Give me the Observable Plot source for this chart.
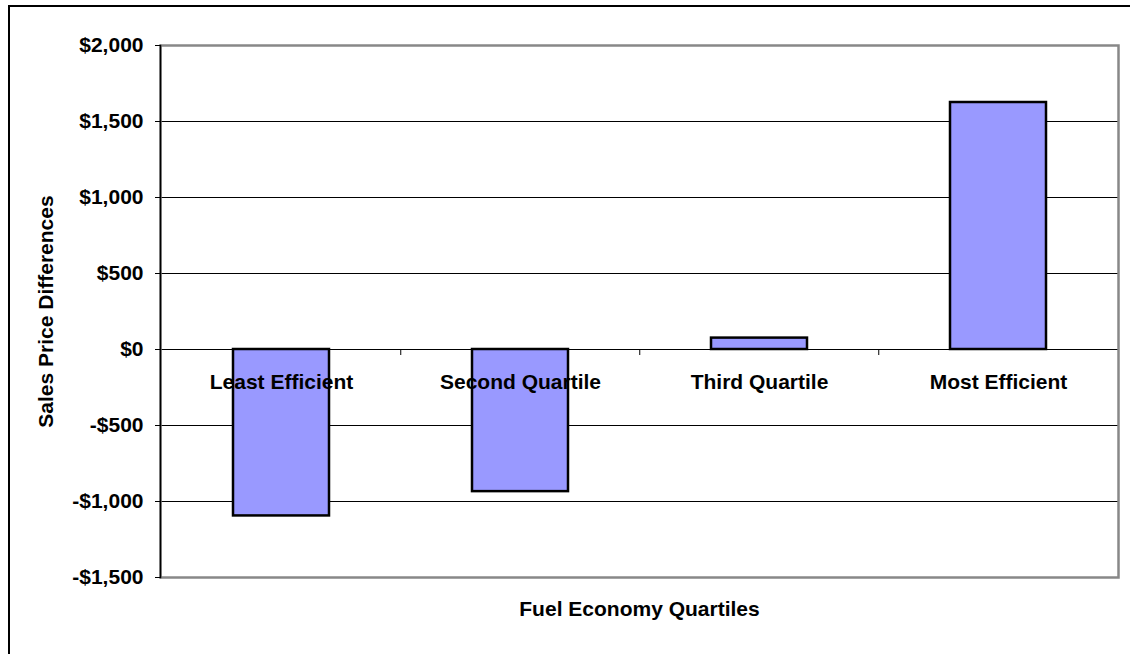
<!DOCTYPE html>
<html><head><meta charset="utf-8">
<script src="https://cdn.jsdelivr.net/npm/d3@7"></script>
<script src="https://cdn.jsdelivr.net/npm/@observablehq/plot@0.6"></script>
<style>
html,body{margin:0;padding:0;background:#fff;}
#wrap{position:relative;width:1130px;height:654px;overflow:hidden;}
#chart{position:absolute;left:0;top:0;}
#border{position:absolute;left:8px;top:5px;width:1200px;height:700px;border-top:2px solid #000;border-left:2px solid #000;pointer-events:none;}
</style></head><body>
<div id="wrap"><div id="chart"></div><div id="border"></div></div>
<script>
const categories = ["Least Efficient", "Second Quartile", "Third Quartile", "Most Efficient"];
const values = [-1095, -935, 75, 1625];
const yTicks = [-1500, -1000, -500, 0, 500, 1000, 1500, 2000];
const gridTicks = [-1000, -500, 0, 500, 1000, 1500];
const yLabel = "Sales Price Differences";
const xLabel = "Fuel Economy Quartiles";

const data = categories.map((c, i) => ({category: c, value: values[i]}));
const W = 1130, H = 654, mL = 160, mR = 12, mT = 45, mB = 77;
const step = (W - mL - mR) / categories.length;
const fmt = d => (d < 0 ? "-" : "") + "$" + d3.format(",")(Math.abs(d));
const font = "'Liberation Sans', Arial, sans-serif";

const chart = Plot.plot({
  width: W, height: H,
  marginLeft: mL, marginRight: mR, marginTop: mT, marginBottom: mB,
  style: {fontFamily: font, fontSize: "21px", fontWeight: "bold", color: "#000", background: "transparent", overflow: "visible"},
  x: {domain: categories, paddingInner: 0.6, paddingOuter: 0.3, axis: null},
  y: {domain: [-1500, 2000], axis: null},
  marks: [
    Plot.ruleY(gridTicks, {stroke: "#000", strokeWidth: 1}),
    Plot.frame({stroke: "#888", strokeWidth: 2.5}),
    Plot.frame({anchor: "left", stroke: "#000", strokeWidth: 1.5}),
    Plot.axisY(yTicks, {tickFormat: fmt, tickSize: 5, tickPadding: 12, label: null, fontSize: 21, fontWeight: "bold", stroke: "#000"}),
    Plot.ruleX(categories.slice(1), {x: d => d, dx: -step / 2, y1: () => 0, y2: () => 0, insetBottom: -6, stroke: "#000"}),
    Plot.barY(data, {x: "category", y: "value", fill: "#9999ff", stroke: "#000", strokeWidth: 2.5}),
    Plot.text(data, {x: "category", y: () => 0, text: "category", dy: 33, fontSize: 21, fontWeight: "bold", fill: "#000"}),
    Plot.text([yLabel], {text: d => d, frameAnchor: "left", textAnchor: "middle", rotate: -90, dx: -114, fontSize: 21, fontWeight: "bold", fill: "#000"}),
    Plot.text([xLabel], {text: d => d, frameAnchor: "bottom", dy: 38, fontSize: 21, fontWeight: "bold", fill: "#000"})
  ]
});
document.getElementById("chart").appendChild(chart);
</script>
</body></html>
